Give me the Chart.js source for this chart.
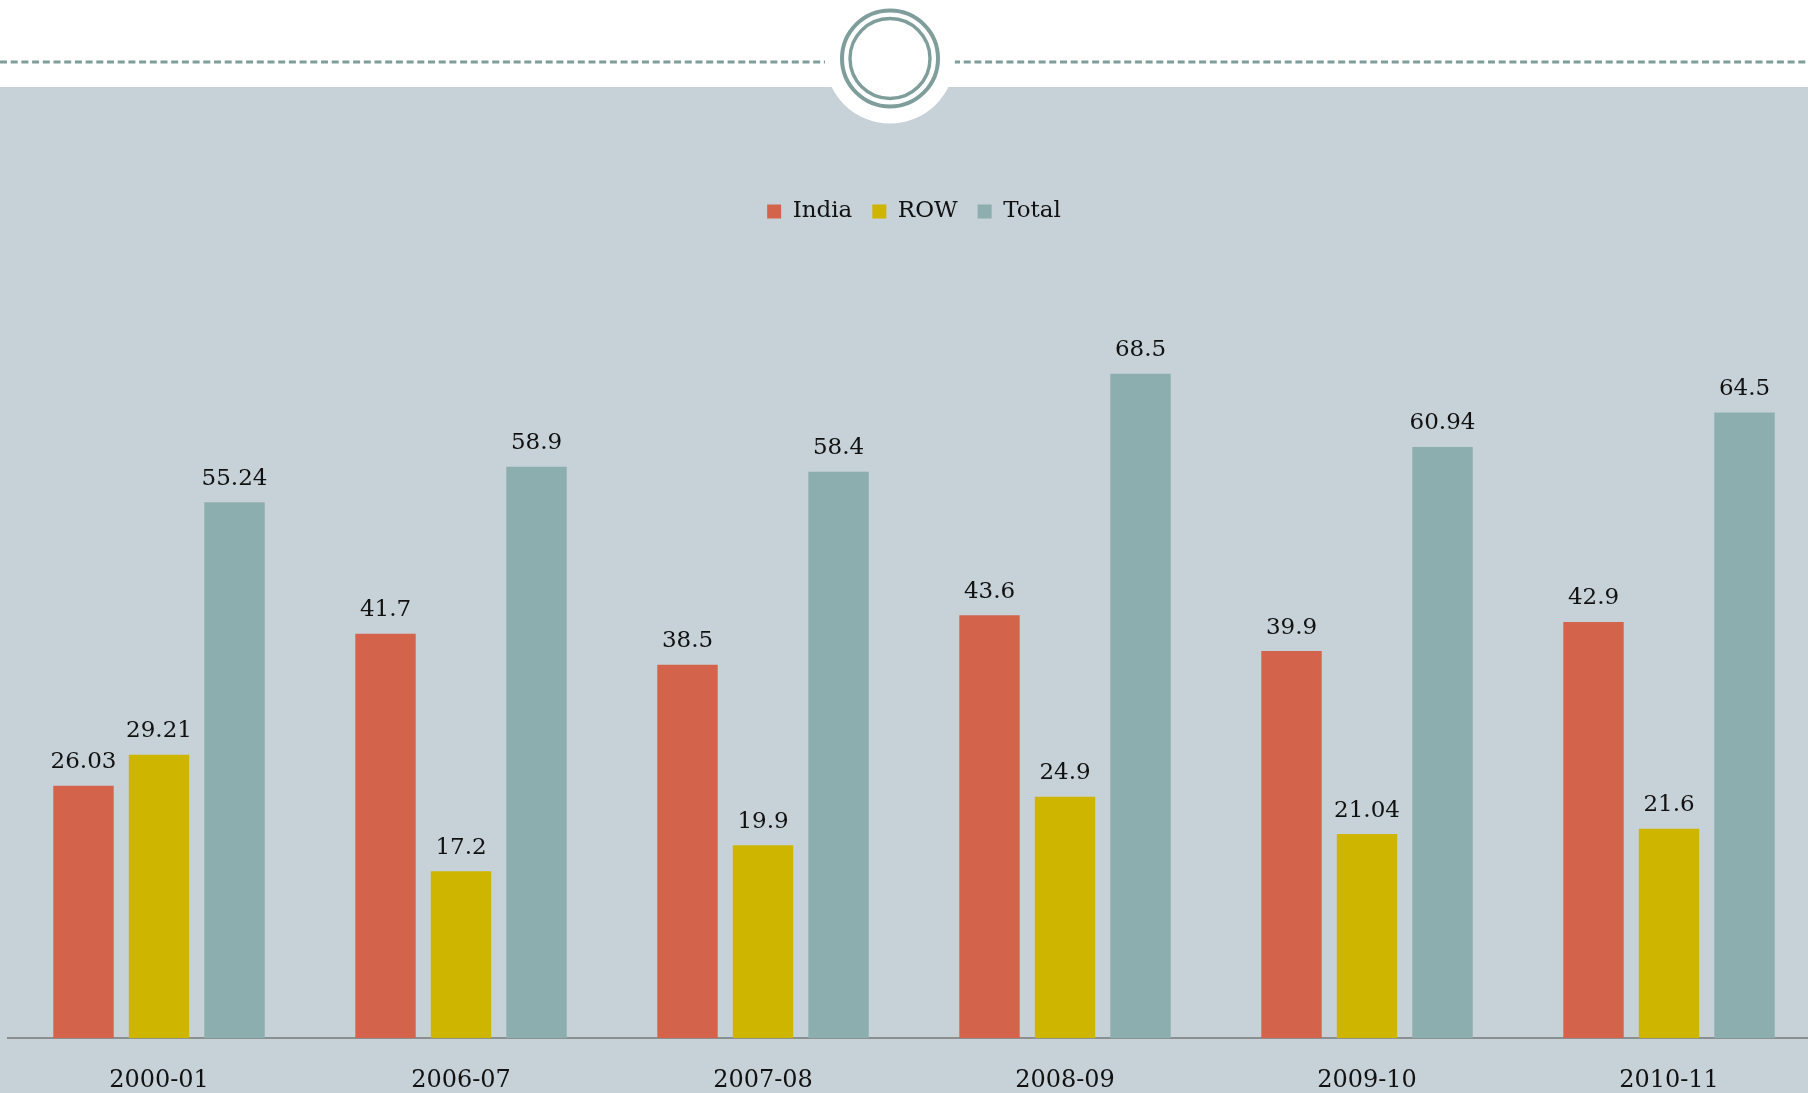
<!DOCTYPE html>
<html>
<head>
<meta charset="utf-8">
<script src="https://cdn.jsdelivr.net/npm/chart.js@4/dist/chart.umd.min.js"></script>
<style>
  html, body { margin: 0; padding: 0; width: 1808px; height: 1093px; overflow: hidden; background: #ffffff; }
  #band { position: absolute; left: 0; top: 87px; width: 1808px; height: 1006px; background: #c6d2d8; }
  #deco { position: absolute; left: 0; top: 0; }
  #wrap { position: absolute; left: 0; top: 0; width: 1830px; height: 1123px; }
</style>
</head>
<body>
<div id="band"></div>
<svg id="deco" width="1808" height="130">
  <line x1="0" y1="62" x2="825" y2="62" stroke="#7f9e9b" stroke-width="3" stroke-dasharray="7 3.7"/>
  <line x1="953" y1="62" x2="1808" y2="62" stroke="#7f9e9b" stroke-width="3" stroke-dasharray="7 3.7"/>
  <circle cx="890" cy="58.5" r="65" fill="#ffffff"/>
  <circle cx="890" cy="58.5" r="48" fill="none" stroke="#7f9e9b" stroke-width="4"/>
  <circle cx="890" cy="58.5" r="40" fill="none" stroke="#7f9e9b" stroke-width="3.4"/>
</svg>
<div id="wrap"><canvas id="c"></canvas></div>
<script>
const categories = ["2000-01", "2006-07", "2007-08", "2008-09", "2009-10", "2010-11"];
const indiaValues = [26.03, 41.7, 38.5, 43.6, 39.9, 42.9];
const rowValues = [29.21, 17.2, 19.9, 24.9, 21.04, 21.6];
const totalValues = [55.24, 58.9, 58.4, 68.5, 60.94, 64.5];
const seriesNames = ["India", "ROW", "Total"];
const seriesColors = ["#d3644b", "#ceb500", "#8caeaf"];

const FONT = "'DejaVu Serif', 'Liberation Serif', serif";

const valueLabels = {
  id: 'valueLabels',
  afterDatasetsDraw(chart) {
    const ctx = chart.ctx;
    ctx.save();
    ctx.font = "23px " + FONT;
    ctx.fillStyle = "#111111";
    ctx.textAlign = "center";
    ctx.textBaseline = "bottom";
    chart.data.datasets.forEach((ds, di) => {
      const meta = chart.getDatasetMeta(di);
      meta.data.forEach((bar, i) => {
        ctx.fillText(String(ds.data[i]), bar.x, bar.y - 12);
      });
    });
    ctx.restore();
  }
};

const chart = new Chart(document.getElementById('c'), {
  type: 'bar',
  data: {
    labels: categories,
    datasets: [
      { label: seriesNames[0], data: indiaValues, backgroundColor: seriesColors[0] },
      { label: seriesNames[1], data: rowValues, backgroundColor: seriesColors[1] },
      { label: seriesNames[2], data: totalValues, backgroundColor: seriesColors[2] }
    ]
  },
  options: {
    responsive: true,
    maintainAspectRatio: false,
    animation: false,
    categoryPercentage: 0.75,
    barPercentage: 0.8,
    layout: { padding: { top: 180, left: 8, right: 10, bottom: 0 } },
    plugins: {
      tooltip: { enabled: false },
      legend: {
        position: 'top',
        labels: {
          boxWidth: 14, boxHeight: 14, padding: 20,
          color: '#111111',
          font: { family: FONT, size: 23 }
        }
      }
    },
    scales: {
      x: {
        grid: { display: false, drawTicks: false },
        border: { display: true, color: '#8a9090', width: 2 },
        ticks: { color: '#111111', padding: 28, font: { family: FONT, size: 24 } }
      },
      y: {
        display: false,
        min: 0,
        max: 83.0
      }
    }
  },
  plugins: [valueLabels]
});
</script>
</body>
</html>
